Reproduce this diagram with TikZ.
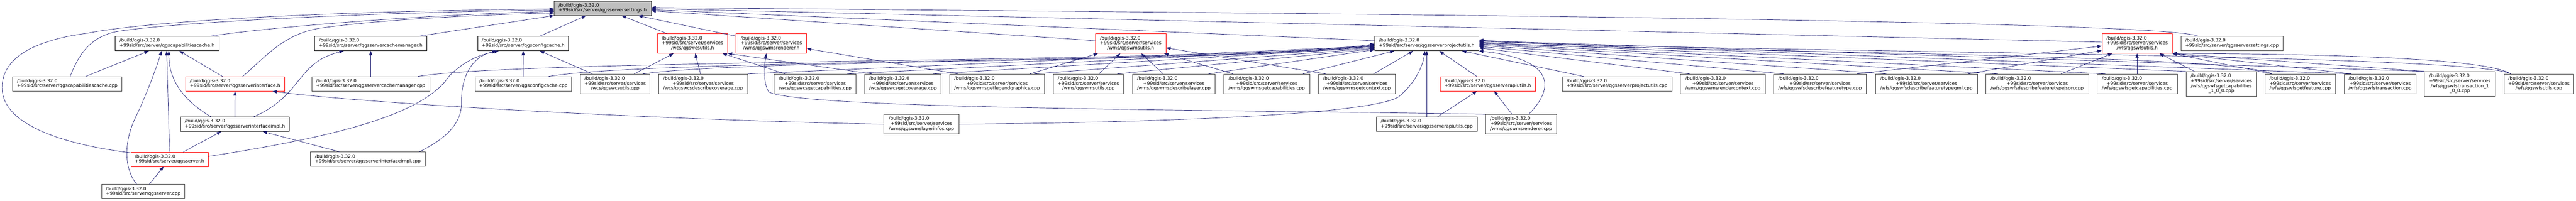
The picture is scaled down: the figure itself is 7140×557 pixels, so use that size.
\documentclass[tikz,border=0pt]{standalone}
\usepackage{fontspec}
\setmainfont{DejaVu Sans}
\usepackage{tikz}
\usetikzlibrary{arrows.meta}
\definecolor{edgeblue}{HTML}{191970}
\definecolor{boxred}{HTML}{FF0000}
\definecolor{rootgray}{HTML}{BFBFBF}
\definecolor{leafgray}{HTML}{404040}
\newcommand{\qpath}[1]{\begin{tabular}{@{}c@{}}\multicolumn{1}{@{}l@{}}{/build/qgis-3.32.0}\\#1\end{tabular}}
\tikzset{fbox/.style = {draw, fill=white, line width=1pt, inner sep=0pt, minimum height=40, font=\fontsize{12.8}{13.5}\selectfont}}
\tikzset{fcpp/.style = {fbox, draw=leafgray, line width=1.3pt}}
\tikzset{fred/.style = {fbox, draw=boxred}}
\tikzset{froot/.style = {fcpp, fill=rootgray}}
\tikzset{tall/.style = {minimum height=54}}
\tikzset{taller/.style = {minimum height=68}}
\tikzset{inc/.style = {draw=edgeblue, line width=1pt, -{Triangle[length=12pt, width=9pt]}}}

\begin{document}
\begin{tikzpicture}[x=1pt, y=1pt]
      \useasboundingbox (0,0) rectangle (7140,557);
      \begin{scope}[yshift=2.5pt]
      \node [froot, minimum width=269] (root) at (1670.5, 531.5) {\qpath{+99sid/src/server/qgsserversettings.h}};

      \node [fbox, minimum width=288] (capch) at (463, 433.5) {\qpath{+99sid/src/server/qgscapabilitiescache.h}};
      \node [fcpp, minimum width=303] (capcc) at (186.5, 321.5) {\qpath{+99sid/src/server/qgscapabilitiescache.cpp}};
      \node [fred, minimum width=275] (ifch) at (651.5, 321.5) {\qpath{+99sid/src/server/qgsserverinterface.h}};
      \node [fbox, minimum width=302] (ifimh) at (651, 209.5) {\qpath{+99sid/src/server/qgsserverinterfaceimpl.h}};
      \node [fred, minimum width=214] (srvh) at (470, 112) {\qpath{+99sid/src/server/qgsserver.h}};
      \node [fcpp, minimum width=230] (srvc) at (397, 22) {\qpath{+99sid/src/server/qgsserver.cpp}};
      \node [fbox, minimum width=311] (cmh) at (1027.5, 433.5) {\qpath{+99sid/src/server/qgsservercachemanager.h}};
      \node [fcpp, minimum width=327] (cmc) at (1027.5, 321.5) {\qpath{+99sid/src/server/qgsservercachemanager.cpp}};
      \node [fcpp, minimum width=319] (ifimc) at (1019.5, 112) {\qpath{+99sid/src/server/qgsserverinterfaceimpl.cpp}};
      \node [fbox, minimum width=252] (cfgh) at (1450, 433.5) {\qpath{+99sid/src/server/qgsconfigcache.h}};
      \node [fcpp, minimum width=267] (cfgc) at (1450.5, 321.5) {\qpath{+99sid/src/server/qgsconfigcache.cpp}};

      \node [fcpp, tall, minimum width=194] (wcsuc) at (1705, 321.5) {\qpath{+99sid/src/server/services\\/wcs/qgswcsutils.cpp}};
      \node [fred, tall, minimum width=195] (wcsuh) at (1919.5, 433.5) {\qpath{+99sid/src/server/services\\/wcs/qgswcsutils.h}};
      \node [fred, tall, minimum width=196] (wmsrh) at (2138, 433.5) {\qpath{+99sid/src/server/services\\/wms/qgswmsrenderer.h}};
      \node [fcpp, tall, minimum width=246] (wcsdc) at (1949, 321.5) {\qpath{+99sid/src/server/services\\/wcs/qgswcsdescribecoverage.cpp}};
      \node [fcpp, tall, minimum width=227] (wcsgcap) at (2259.5, 321.5) {\qpath{+99sid/src/server/services\\/wcs/qgswcsgetcapabilities.cpp}};
      \node [fcpp, tall, minimum width=211] (wcsgcov) at (2502.5, 321.5) {\qpath{+99sid/src/server/services\\/wcs/qgswcsgetcoverage.cpp}};
      \node [fcpp, tall, minimum width=263] (wmslg) at (2763.5, 321.5) {\qpath{+99sid/src/server/services\\/wms/qgswmsgetlegendgraphics.cpp}};
      \node [fcpp, tall, minimum width=208] (wmsli) at (2554, 209.5) {\qpath{+99sid/src/server/services\\/wms/qgswmslayerinfos.cpp}};
      \node [fred, tall, minimum width=196] (wmsuh) at (3134, 433.5) {\qpath{+99sid/src/server/services\\/wms/qgswmsutils.h}};
      \node [fcpp, tall, minimum width=194] (wmsuc) at (3017, 321.5) {\qpath{+99sid/src/server/services\\/wms/qgswmsutils.cpp}};
      \node [fcpp, tall, minimum width=229] (wmsdl) at (3253.5, 321.5) {\qpath{+99sid/src/server/services\\/wms/qgswmsdescribelayer.cpp}};
      \node [fcpp, tall, minimum width=238] (wmsgcap) at (3511, 321.5) {\qpath{+99sid/src/server/services\\/wms/qgswmsgetcapabilities.cpp}};
      \node [fcpp, tall, minimum width=212] (wmsgctx) at (3761, 321.5) {\qpath{+99sid/src/server/services\\/wms/qgswmsgetcontext.cpp}};

      \node [fbox, minimum width=289] (puh) at (3954.5, 433.5) {\qpath{+99sid/src/server/qgsserverprojectutils.h}};
      \node [fred, minimum width=265] (apih) at (4123.5, 321.5) {\qpath{+99sid/src/server/qgsserverapiutils.h}};
      \node [fcpp, minimum width=279] (apic) at (3954.5, 209.5) {\qpath{+99sid/src/server/qgsserverapiutils.cpp}};
      \node [fcpp, tall, minimum width=196] (wmsrc) at (4216, 209.5) {\qpath{+99sid/src/server/services\\/wms/qgswmsrenderer.cpp}};
      \node [fcpp, minimum width=304] (puc) at (4482, 321.5) {\qpath{+99sid/src/server/qgsserverprojectutils.cpp}};
      \node [fcpp, tall, minimum width=235] (wmsrctx) at (4775.5, 321.5) {\qpath{+99sid/src/server/services\\/wms/qgswmsrendercontext.cpp}};
      \node [fcpp, tall, minimum width=257] (wfsdft) at (5044.5, 321.5) {\qpath{+99sid/src/server/services\\/wfs/qgswfsdescribefeaturetype.cpp}};
      \node [fcpp, tall, minimum width=283] (wfsdftg) at (5339.5, 321.5) {\qpath{+99sid/src/server/services\\/wfs/qgswfsdescribefeaturetypegml.cpp}};
      \node [fcpp, tall, minimum width=285] (wfsdftj) at (5646.5, 321.5) {\qpath{+99sid/src/server/services\\/wfs/qgswfsdescribefeaturetypejson.cpp}};
      \node [fred, tall, minimum width=195] (wfsuh) at (5923.5, 433.5) {\qpath{+99sid/src/server/services\\/wfs/qgswfsutils.h}};
      \node [fcpp, minimum width=283] (setc) at (6186.5, 433.5) {\qpath{+99sid/src/server/qgsserversettings.cpp}};
      \node [fcpp, tall, minimum width=223] (wfsgcap) at (5923.5, 321.5) {\qpath{+99sid/src/server/services\\/wfs/qgswfsgetcapabilities.cpp}};
      \node [fcpp, taller, minimum width=194] (wfsgcap1) at (6157, 321.5) {\qpath{+99sid/src/server/services\\/wfs/qgswfsgetcapabilities\\\_1\_0\_0.cpp}};
      \node [fcpp, tall, minimum width=195] (wfsgf) at (6375.5, 321.5) {\qpath{+99sid/src/server/services\\/wfs/qgswfsgetfeature.cpp}};
      \node [fcpp, tall, minimum width=198] (wfstr) at (6597, 321.5) {\qpath{+99sid/src/server/services\\/wfs/qgswfstransaction.cpp}};
      \node [fcpp, taller, minimum width=196] (wfstr1) at (6818, 321.5) {\qpath{+99sid/src/server/services\\/wfs/qgswfstransaction\_1\\\_0\_0.cpp}};
      \node [fcpp, tall, minimum width=194] (wfsuc) at (7037, 321.5) {\qpath{+99sid/src/server/services\\/wfs/qgswfsutils.cpp}};

      \draw[inc] ([yshift=18pt]srvh.west) .. controls (200,150) and (10,200) .. (6,307) .. controls (2,400) and (110,445) .. (241,462) .. controls (380,490) and (800,522) .. ([yshift=-2pt]root.west);
      \draw[inc] ([xshift=8pt]capcc.north) .. controls (215,395) and (245,450) .. (320,466) .. controls (450,490) and (1000,520) .. ([yshift=-5pt]root.west);
      \draw[inc] ([xshift=120pt]capch.north) .. controls (750,480) and (1200,515) .. ([yshift=-9pt]root.west);
      \draw[inc] ([xshift=21pt]ifch.north) .. controls (740,400) and (790,465) .. (900,478) .. controls (1100,505) and (1400,515) .. ([yshift=-13pt]root.west);
      \draw[inc] (cmh) -- (root);
      \draw[inc] (cfgh) -- (root);
      \draw[inc] (wcsuh) -- (root);
      \draw[inc] (wmsrh) -- (root);
      \draw[inc] ([yshift=8pt]wmsuh.west) -- ([yshift=-7pt]root.east);
      \draw[inc] ([yshift=8pt]puh.west) -- ([yshift=-4pt]root.east);
      \draw[inc] ([yshift=4pt]wfsuh.west) -- ([yshift=-1pt]root.east);
      \draw[inc] ([xshift=-94pt]setc.north) .. controls (5980,500) and (3500,518) .. ([yshift=2pt]root.east);

      \draw[inc] (capcc) -- (capch);
      \draw[inc] (ifch) -- (capch);
      \draw[inc] ([xshift=-66pt]ifimh.north) .. controls (500,280) and (468,340) .. ([xshift=5pt]capch.south);
      \draw[inc] (srvh.north) -- ([xshift=-1pt]capch.south);
      \draw[inc] ([xshift=-18pt]srvc.north) .. controls (340,90) and (345,170) .. (379,235) .. controls (405,290) and (435,370) .. ([xshift=-15pt]capch.south);

      \draw[inc] (ifimh) -- (ifch);
      \draw[inc] (wmsli.west) .. controls (1800,222) and (1000,268) .. ([xshift=-34pt]ifch.south east);
      \draw[inc] (srvh) -- (ifimh);
      \draw[inc] (ifimc) -- (ifimh);
      \draw[inc] (srvc) -- (srvh);

      \draw[inc] ([xshift=52pt]ifimh.north) .. controls (840,290) and (820,380) .. ([xshift=-75pt]cmh.south);
      \draw[inc] (cmc) -- (cmh);

      \draw[inc] ([yshift=8pt]srvh.east) .. controls (900,170) and (1170,230) .. (1244,342) .. controls (1290,390) and (1340,405) .. ([xshift=-68pt]cfgh.south);
      \draw[inc] ([xshift=-18pt]ifimc.north east) .. controls (1260,180) and (1280,230) .. (1279,270) .. controls (1278,330) and (1300,395) .. ([xshift=-74pt]cfgh.south);
      \draw[inc] (cfgc) -- (cfgh);
      \draw[inc] (wcsuc) -- (cfgh);

      \draw[inc] (wcsuc) -- (wcsuh);
      \draw[inc] (wcsdc) -- (wcsuh);
      \draw[inc] (wcsgcap) -- (wcsuh);
      \draw[inc] ([xshift=20pt]wcsgcov.north west) -- (wcsuh.south east);

      \draw[inc] ([xshift=23pt]wmslg.north west) -- ([yshift=-14pt]wmsrh.east);
      \draw[inc] (wmsrc.north west) .. controls (3400,250) and (2250,250) .. (2132,298) .. controls (2115,320) and (2118,370) .. ([xshift=-14pt]wmsrh.south);

      \draw[inc] (wmslg) -- (wmsuh);
      \draw[inc] (wmsuc) -- (wmsuh);
      \draw[inc] (wmsdl) -- (wmsuh);
      \draw[inc] (wmsgcap) -- (wmsuh);
      \draw[inc] ([xshift=20pt]wmsgctx.north west) -- ([yshift=-12pt]wmsuh.east);

      \draw[inc] ([xshift=-33pt]cmc.north east) .. controls (1458,392) and (3450,380) .. ([yshift=-1pt]puh.west);
      \draw[inc] ([xshift=-64pt]cfgc.north east) .. controls (1820,392) and (3450,380) .. ([yshift=-3pt]puh.west);
      \draw[inc] ([xshift=-21pt]wcsuc.north east) .. controls (2081,392) and (3450,380) .. ([yshift=-5pt]puh.west);
      \draw[inc] (wcsdc.north east) -- ([yshift=-7pt]puh.west);
      \draw[inc] ([xshift=-25pt]wcsgcap.north east) -- ([yshift=-9pt]puh.west);
      \draw[inc] ([xshift=-22pt]wcsgcov.north east) -- ([yshift=-11pt]puh.west);
      \draw[inc] ([xshift=-29pt]wmslg.north east) -- ([yshift=-13pt]puh.west);
      \draw[inc] ([xshift=-18pt]wmsuc.north east) -- ([yshift=-15pt]puh.west);
      \draw[inc] ([xshift=-19pt]wmsdl.north east) -- ([yshift=-17pt]puh.west);

      \draw[inc] ([xshift=-19pt]wmsgcap.north east) -- ([xshift=-90pt]puh.south);
      \draw[inc] ([xshift=46pt]wmsgctx.north) -- ([xshift=-38pt]puh.south);
      \draw[inc] (wmsli.east) .. controls (3300,215) and (3800,240) .. (3876,285) .. controls (3930,330) and (3945,380) .. ([xshift=-5pt]puh.south);
      \draw[inc] (apic.north) -- (puh.south);
      \draw[inc] ([xshift=-30pt]apih.north) -- ([xshift=35pt]puh.south);
      \draw[inc] ([xshift=-93pt]puc.north) -- ([xshift=98pt]puh.south);
      \draw[inc] ([xshift=21pt]wmsrc.north) .. controls (4310,310) and (4310,390) .. (puh.south east);

      \draw[inc] ([xshift=30pt]apic.north) -- ([xshift=-30pt]apih.south);
      \draw[inc] ([xshift=-25pt]wmsrc.north) -- ([xshift=18pt]apih.south);

      \draw[inc] ([xshift=26pt]wmsrctx.north west) -- ([yshift=-12pt]puh.east);
      \draw[inc] ([xshift=29pt]wfsdft.north west) -- ([yshift=-8pt]puh.east);
      \draw[inc] ([xshift=31pt]wfsdftg.north west) -- ([yshift=-5pt]puh.east);
      \draw[inc] ([xshift=34pt]wfsdftj.north west) -- ([yshift=-2pt]puh.east);
      \draw[inc] ([xshift=24pt]wfsgcap.north west) -- (puh.east);
      \draw[inc] (wfsgcap1.north west) -- ([yshift=2pt]puh.east);
      \draw[inc] ([xshift=19pt]wfsgf.north west) .. controls (6187,410) and (4500,410) .. ([yshift=4pt]puh.east);
      \draw[inc] ([xshift=20pt]wfstr.north west) -- ([yshift=6pt]puh.east);
      \draw[inc] (wfstr1.north west) -- ([yshift=8pt]puh.east);
      \draw[inc] ([xshift=20pt]wfsuc.north west) .. controls (6850,410) and (4500,410) .. ([yshift=10pt]puh.east);

      \draw[inc] ([xshift=-27pt]wfsdft.north east) -- ([yshift=-7pt]wfsuh.west);
      \draw[inc] ([xshift=-26pt]wfsdftg.north east) -- ([yshift=-19pt]wfsuh.west);
      \draw[inc] ([xshift=66pt]wfsdftj.north) -- ([xshift=-69pt]wfsuh.south);
      \draw[inc] (wfsgcap) -- (wfsuh);
      \draw[inc] ([xshift=23pt]wfsgcap1.north west) -- ([xshift=62pt]wfsuh.south);
      \draw[inc] ([xshift=19pt]wfsgf.north west) -- (wfsuh.south east);
      \draw[inc] ([xshift=20pt]wfstr.north west) -- (wfsuh.south east);
      \draw[inc] (wfstr1.north west) -- (wfsuh.south east);
      \draw[inc] ([xshift=20pt]wfsuc.north west) .. controls (6880,400) and (6300,405) .. (wfsuh.south east);
      \end{scope}
    \end{tikzpicture}
\end{document}
